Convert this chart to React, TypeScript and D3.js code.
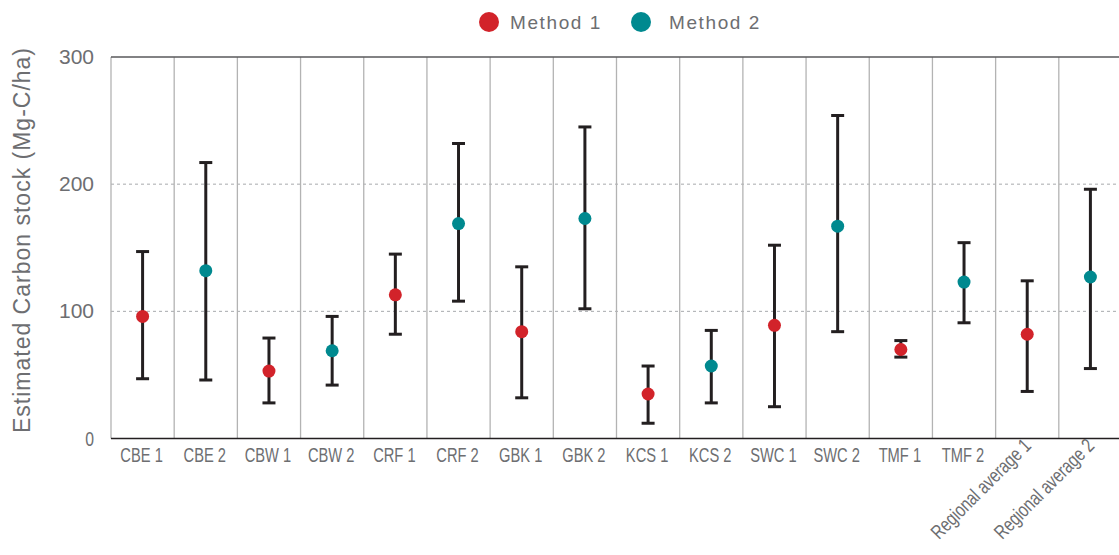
import React, { useEffect, useRef } from "react";
import * as d3 from "d3";

// chart values
const categories = [
  "CBE 1", "CBE 2", "CBW 1", "CBW 2", "CRF 1", "CRF 2", "GBK 1", "GBK 2",
  "KCS 1", "KCS 2", "SWC 1", "SWC 2", "TMF 1", "TMF 2",
  "Regional average 1", "Regional average 2",
];
const methods = [1, 2, 1, 2, 1, 2, 1, 2, 1, 2, 1, 2, 1, 2, 1, 2];
const estimates = [96, 132, 53, 69, 113, 169, 84, 173, 35, 57, 89, 167, 70, 123, 82, 127];
const upper = [147, 217, 79, 96, 145, 232, 135, 245, 57, 85, 152, 254, 77, 154, 124, 196];
const lower = [47, 46, 28, 42, 82, 108, 32, 102, 12, 28, 25, 84, 64, 91, 37, 55];
const yTicks = [0, 100, 200, 300];
const legendLabels = ["Method 1", "Method 2"];

const methodColor = d3.scaleOrdinal<number, string>().domain([1, 2]).range(["#d2232a", "#00898f"]);
const textGray = "#6d6e71";
const plain = "'Liberation Sans', Arial, sans-serif";

const App = () => {
  const svgRef = useRef<SVGSVGElement>(null);

  useEffect(() => {
    const svg = d3.select(svgRef.current);
    svg.selectAll("*").remove();

    const left = 111;
    const right = 1122;
    const top = 57;
    const bottom = 438.5;

    const x = d3.scaleBand<string>().domain(categories).range([left, right]).padding(0);
    const y = d3.scaleLinear().domain([0, 300]).range([bottom, top]);

    const rows = categories.map((c, i) => ({
      cat: c, method: methods[i], est: estimates[i], hi: upper[i], lo: lower[i],
    }));

    // dotted grid lines
    svg.append("g")
      .selectAll("line")
      .data(yTicks.filter((t) => t > 0 && t < 300))
      .join("line")
      .attr("x1", left).attr("x2", right)
      .attr("y1", (d) => y(d)).attr("y2", (d) => y(d))
      .attr("stroke", "#a7a9ac")
      .attr("stroke-width", 1)
      .attr("stroke-dasharray", "3,3");

    // category separators
    svg.append("g")
      .selectAll("line")
      .data(categories)
      .join("line")
      .attr("x1", (d) => x(d)!).attr("x2", (d) => x(d)!)
      .attr("y1", top).attr("y2", bottom)
      .attr("stroke", "#b3b3b3")
      .attr("stroke-width", 1.3);

    // top frame + baseline
    svg.append("line")
      .attr("x1", left).attr("x2", right).attr("y1", y(300)).attr("y2", y(300))
      .attr("stroke", "#58595b").attr("stroke-width", 1.3);
    svg.append("line")
      .attr("x1", left).attr("x2", right).attr("y1", y(0)).attr("y2", y(0))
      .attr("stroke", "#231f20").attr("stroke-width", 1.6);

    // y tick labels (the 0 is set in the condensed face like the category labels)
    svg.append("g")
      .selectAll("text")
      .data(yTicks)
      .join("text")
      .attr("transform", (d) => `translate(94, ${y(d) + 7}) scale(${d === 0 ? 0.75 : 1}, 1)`)
      .attr("text-anchor", "end")
      .style("font-family", plain)
      .style("font-size", "21px")
      .style("fill", textGray)
      .text((d) => d);

    // y axis title
    svg.append("text")
      .attr("transform", `translate(30, 240) rotate(-90)`)
      .attr("text-anchor", "middle")
      .style("font-family", plain)
      .style("font-size", "23px")
      .style("letter-spacing", "1px")
      .style("fill", textGray)
      .text("Estimated Carbon stock (Mg-C/ha)");

    // x labels, squeezed horizontally to mimic the condensed face
    const labels = svg.append("g");
    rows.forEach((d) => {
      const cx = x(d.cat)! + x.bandwidth() / 2;
      if (d.cat.startsWith("Regional")) {
        labels.append("text")
          .attr("transform", `translate(${cx + 5}, 447) rotate(-45) scale(0.76, 1)`)
          .attr("text-anchor", "end")
          .style("font-family", plain)
          .style("font-size", "20px")
          .style("fill", textGray)
          .text(d.cat);
      } else {
        labels.append("text")
          .attr("transform", `translate(${cx - 1}, 462) scale(0.7, 1)`)
          .attr("text-anchor", "middle")
          .style("font-family", plain)
          .style("font-size", "21px")
          .style("fill", textGray)
          .text(d.cat);
      }
    });

    // error bars
    const bars = svg.append("g")
      .selectAll("g")
      .data(rows)
      .join("g")
      .attr("transform", (d) => `translate(${x(d.cat)! + x.bandwidth() / 2},0)`);
    bars.append("line")
      .attr("y1", (d) => y(d.lo)).attr("y2", (d) => y(d.hi))
      .attr("stroke", "#231f20").attr("stroke-width", 3);
    bars.append("line")
      .attr("x1", -6.5).attr("x2", 6.5)
      .attr("y1", (d) => y(d.hi)).attr("y2", (d) => y(d.hi))
      .attr("stroke", "#231f20").attr("stroke-width", 3);
    bars.append("line")
      .attr("x1", -6.5).attr("x2", 6.5)
      .attr("y1", (d) => y(d.lo)).attr("y2", (d) => y(d.lo))
      .attr("stroke", "#231f20").attr("stroke-width", 3);
    bars.append("circle")
      .attr("cy", (d) => y(d.est))
      .attr("r", 6.5)
      .attr("fill", (d) => methodColor(d.method));

    // legend
    const legendX = [489, 641];
    const legend = svg.append("g")
      .selectAll("g")
      .data(legendLabels)
      .join("g")
      .attr("transform", (d, i) => `translate(${legendX[i]},22)`);
    legend.append("circle")
      .attr("r", 10)
      .attr("fill", (d, i) => methodColor(i + 1));
    legend.append("text")
      .attr("x", (d, i) => (i === 0 ? 21 : 28))
      .attr("y", 7)
      .style("font-family", plain)
      .style("font-size", "19px")
      .style("letter-spacing", "1.6px")
      .style("fill", textGray)
      .text((d) => d);
  }, []);

  return (
    <svg
      ref={svgRef}
      width={1119}
      height={555}
      style={{ position: "absolute", left: 0, top: 0, background: "#fff" }}
    />
  );
};

export default App;
